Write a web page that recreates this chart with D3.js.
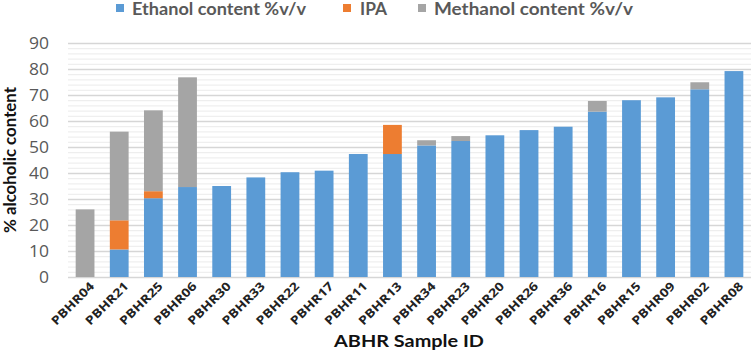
<!DOCTYPE html>
<html><head><meta charset="utf-8">
<script src="https://cdn.jsdelivr.net/npm/d3@7/dist/d3.min.js"></script>
<style>body{margin:0;background:#fff;} svg{display:block;font-family:Lato,"Open Sans",sans-serif;}</style>
</head><body><svg id="c" width="752" height="354"></svg>
<script>
const samples = ["PBHR04","PBHR21","PBHR25","PBHR06","PBHR30","PBHR33","PBHR22","PBHR17","PBHR11","PBHR13","PBHR34","PBHR23","PBHR20","PBHR26","PBHR36","PBHR16","PBHR15","PBHR09","PBHR02","PBHR08"];
const ethanol  = [0,10.6,30.3,34.6,35,38.3,40.3,40.9,47.3,47.3,50.6,52.3,54.5,56.5,57.8,63.6,68,69.1,72.2,79.2];
const ipa      = [0,11.2,2.7,0,0,0,0,0,0,11.2,0,0,0,0,0,0,0,0,0,0];
const methanol = [26,34.1,31.1,42.2,0,0,0,0,0,0,2,1.9,0,0,0,4.1,0,0,2.7,0];
const seriesNames = ["Ethanol content %v/v","IPA","Methanol content %v/v"];
const colors = ["#5B9BD5","#ED7D31","#A5A5A5"];
const yTicks = [0,10,20,30,40,50,60,70,80,90];

const svg = d3.select("#c");
const m = {l:68, r:1, t:43, b:77};
const W = 752, H = 354;
const x = d3.scaleBand().domain(samples).range([m.l, W-m.r]).paddingInner(0.45).paddingOuter(0.225);
const y = d3.scaleLinear().domain([0,90]).range([H-m.b, m.t]);

// minor gridlines
const minor = d3.range(0,91,2).filter(v=>v%10!==0);
svg.append("g").selectAll("line").data(minor).join("line")
  .attr("x1",m.l).attr("x2",W-m.r).attr("y1",d=>y(d)+0.5).attr("y2",d=>y(d)+0.5)
  .attr("stroke","#ebebeb").attr("stroke-width",1);
// major gridlines
svg.append("g").selectAll("line").data(yTicks).join("line")
  .attr("x1",m.l).attr("x2",W-m.r).attr("y1",d=>y(d)+0.5).attr("y2",d=>y(d)+0.5)
  .attr("stroke","#d6d6d6").attr("stroke-width",1.4);

// y axis labels
const yAxis = d3.axisLeft(y).tickValues(yTicks).tickSize(0).tickPadding(19);
const ga = svg.append("g").attr("transform",`translate(${m.l},0)`).call(yAxis);
ga.select(".domain").remove();
ga.selectAll("text").attr("fill","#595959").attr("font-size",16).attr("font-family","'Open Sans',sans-serif")
  .attr("textLength",d=>d===0?10:20).attr("lengthAdjust","spacingAndGlyphs");

// stacked
const rows = samples.map((s,i)=>({s, e:ethanol[i], i:ipa[i], m:methanol[i]}));
const stack = d3.stack().keys(["e","i","m"])(rows);
svg.append("g").selectAll("g").data(stack).join("g").attr("fill",(d,k)=>colors[k])
  .selectAll("rect").data(d=>d).join("rect")
  .attr("x",d=>x(d.data.s)).attr("width",x.bandwidth())
  .attr("y",d=>y(d[1])).attr("height",d=>Math.max(0,y(d[0])-y(d[1])));

// x labels
const xAxis = d3.axisBottom(x).tickSize(0).tickPadding(0);
const gx = svg.append("g").attr("transform",`translate(0,${H-m.b})`).call(xAxis);
gx.select(".domain").remove();
gx.selectAll("text")
  .attr("font-family","'Open Sans',sans-serif").attr("font-weight","bold").attr("font-size",12)
  .attr("fill","#222").attr("text-anchor","end").attr("dy",0)
  .attr("textLength",55).attr("lengthAdjust","spacingAndGlyphs")
  .attr("transform","translate(10,10) rotate(-45)");

// axis titles
svg.append("text").attr("x",409).attr("y",347).attr("text-anchor","middle")
  .attr("font-size",17).attr("font-weight","bold").attr("fill","#111")
  .attr("textLength",150).attr("lengthAdjust","spacingAndGlyphs").text("ABHR Sample ID");
svg.append("text").attr("transform","translate(16,160) rotate(-90)").attr("text-anchor","middle")
  .attr("font-size",17).attr("font-weight","bold").attr("fill","#111")
  .attr("textLength",146).attr("lengthAdjust","spacingAndGlyphs").text("% alcoholic content");

// legend
const legX = [116,343,418];
const legLen = [174,27,199];
const lg = svg.append("g").selectAll("g").data(seriesNames).join("g")
  .attr("transform",(d,i)=>`translate(${legX[i]},0)`);
lg.append("rect").attr("x",0).attr("y",4).attr("width",8).attr("height",8).attr("fill",(d,i)=>colors[i]);
lg.append("text").attr("x",(d,i)=>i===1?17:16).attr("y",15).attr("font-size",16.5).attr("font-weight","bold")
  .attr("fill","#595959").attr("textLength",(d,i)=>legLen[i]).attr("lengthAdjust","spacingAndGlyphs").text(d=>d);
</script></body></html>
